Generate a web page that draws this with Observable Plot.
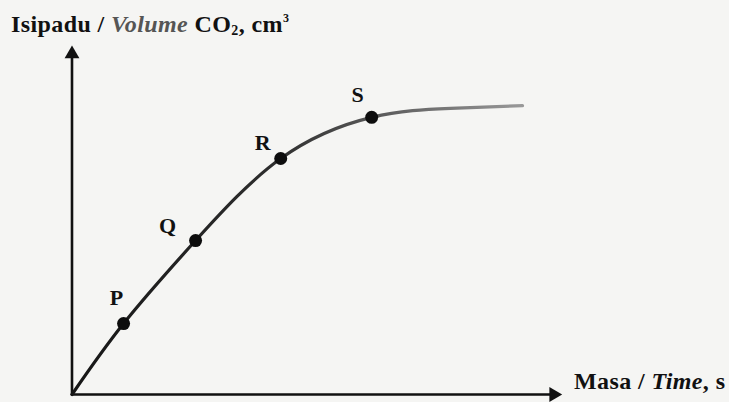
<!DOCTYPE html>
<html>
<head>
<meta charset="utf-8">
<script src="https://cdn.jsdelivr.net/npm/d3@7"></script>
<script src="https://cdn.jsdelivr.net/npm/@observablehq/plot@0.6"></script>
<style>
  html, body { margin: 0; padding: 0; background: #f5f5f3; }
  #wrap { position: relative; width: 729px; height: 402px; overflow: hidden; }
  #wrap svg { position: absolute; left: 0; top: 0; background: transparent; }
  .lbl { position: absolute; font-family: "Liberation Serif", "Times New Roman", serif; font-weight: bold; color: #111; white-space: nowrap; line-height: 24px; font-size: 24px; letter-spacing: 0.4px; }
  .lbl i { font-family: "Liberation Serif", "DejaVu Serif", serif; font-style: italic; }
  #ytitle { left: 11px; top: 12px; }
  #ytitle i { color: #555; }
  #ytitle sub { font-size: 14px; vertical-align: -3px; line-height: 0; }
  #ytitle sup { font-size: 12px; vertical-align: 10px; line-height: 0; }
  #xtitle { left: 574px; top: 369px; }
</style>
</head>
<body>
<div id="wrap">
  <div id="chart"></div>
  <div class="lbl" id="ytitle">Isipadu / <i>Volume</i> CO<sub>2</sub>, cm<sup>3</sup></div>
  <div class="lbl" id="xtitle">Masa / <i>Time</i>, s</div>
</div>
<script>
// Volume of CO2 collected over time (arbitrary units on both axes)
const curveTime   = [0, 1.06, 2.54, 4.29, 6.16, 7.78, 9.26];
const curveVolume = [0, 2.05, 4.45, 6.82, 8.01, 8.27, 8.35];

// Labelled points on the curve
const pointNames  = ["P", "Q", "R", "S"];
const pointTime   = [1.06, 2.54, 4.29, 6.16];
const pointVolume = [2.05, 4.45, 6.82, 8.01];

const curve = curveTime.map((t, i) => ({t, v: curveVolume[i]}));
const points = pointNames.map((name, i) => ({name, t: pointTime[i], v: pointVolume[i]}));

// Label offsets (px) for each named point, up and to the left of the dot
const labelOffset = {P: [-7, -26], Q: [-28, -15], R: [-18, -16], S: [-14, -22]};

// Gradient for the curve stroke: darker near the origin, lighter toward the plateau
const gradientDefs = () => {
  const defs = d3.create("svg:defs");
  const g = defs.append("linearGradient")
    .attr("id", "curveShade")
    .attr("gradientUnits", "userSpaceOnUse")
    .attr("x1", 72).attr("x2", 525).attr("y1", 0).attr("y2", 0);
  [[0, "#161616"], [0.45, "#2e2e2e"], [0.65, "#555"], [1, "#9a9a9a"]].forEach(([o, c]) =>
    g.append("stop").attr("offset", o).attr("stop-color", c));
  return defs.node();
};

const chart = Plot.plot({
  width: 729,
  height: 402,
  x: {domain: [0, 10], range: [71.5, 558], axis: null},
  y: {domain: [0, 10], range: [394, 48], axis: null},
  style: {background: "transparent", fontFamily: "Liberation Serif, serif"},
  marks: [
    gradientDefs,
    // axes
    Plot.line([{t: 0, v: 0}, {t: 9.86, v: 0}], {x: "t", y: "v", stroke: "#111", strokeWidth: 2.6}),
    Plot.line([{t: 0, v: 0}, {t: 0, v: 9.75}], {x: "t", y: "v", stroke: "#111", strokeWidth: 2.6}),
    Plot.dot([{t: 9.9, v: 0}], {x: "t", y: "v", symbol: "triangle", r: 5.5, rotate: 90, fill: "#111"}),
    Plot.dot([{t: 0, v: 9.84}], {x: "t", y: "v", symbol: "triangle", r: 5.5, fill: "#111"}),
    // curve
    Plot.line(curve, {x: "t", y: "v", curve: "natural", stroke: "url(#curveShade)", strokeWidth: 3.2, strokeLinecap: "round"}),
    // points
    Plot.dot(points, {x: "t", y: "v", r: 6.5, fill: "#0d0d0d"}),
    ...points.map(p => Plot.text([p], {
      x: "t", y: "v", text: "name",
      dx: labelOffset[p.name][0], dy: labelOffset[p.name][1],
      fontSize: 22, fontWeight: "bold", fill: "#111"
    }))
  ]
});
document.getElementById("chart").append(chart);
</script>
</body>
</html>
